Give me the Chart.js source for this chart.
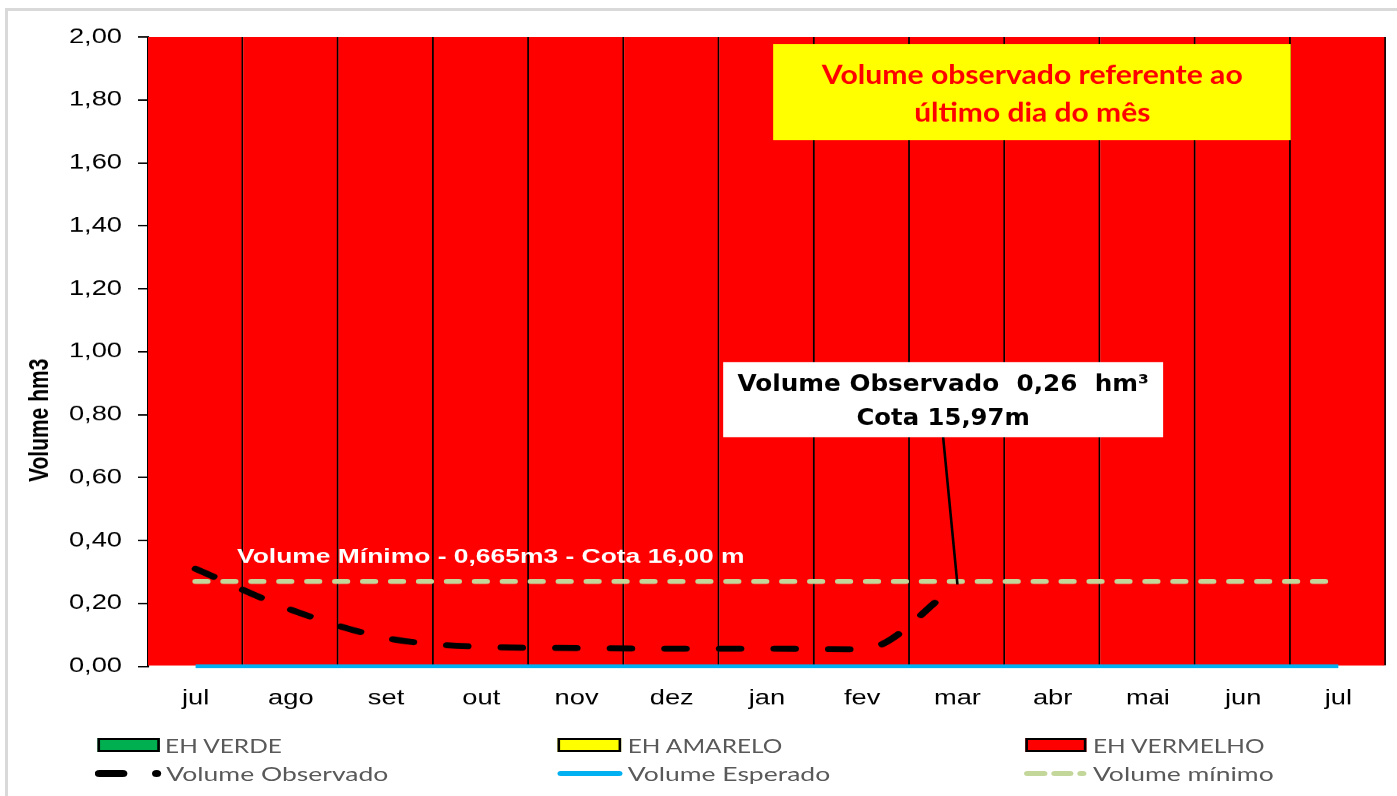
<!DOCTYPE html>
<html>
<head>
<meta charset="utf-8">
<script src="https://cdn.jsdelivr.net/npm/chart.js@4.4.0/dist/chart.umd.min.js"></script>
<style>
  body { margin: 0; background: #fff; overflow: hidden; }
  #moldura { position: absolute; left: 5px; top: 8px; width: 1500px; height: 900px;
             border-left: 3px solid #d9d9d9; border-top: 3px solid #d9d9d9; }
  #palco { position: absolute; left: 0; top: 0; width: 1075px; height: 796px;
           transform: scaleX(1.29953); transform-origin: 0 0; }
  #palco canvas { position: absolute; left: 0; top: 0; }
  .caixa { position: absolute; box-sizing: border-box; height: 14px; border: 2px solid #000; }
  .txt { position: absolute; font-family: Lato, "Open Sans", sans-serif; font-size: 20px;
         color: #595959; line-height: 24px; transform: translateY(-50%); white-space: nowrap;
         transform-origin: 0 50%; }
  .txt.estreito { transform: translateY(-50%) scaleX(0.94); }
  .txt.largo { transform: translateY(-50%) scaleX(1.02); }
  .traco { position: absolute; border-radius: 4px; }
</style>
</head>
<body>
<div id="moldura"></div>
<div id="palco">
  <canvas id="grafico" width="1075" height="796"></canvas>

  <!-- legenda, linha 1 -->
  <div class="caixa" style="left:75px;top:738px;width:48px;background:#00B050"></div>
  <div class="txt estreito" style="left:127px;top:745px">EH VERDE</div>
  <div class="caixa" style="left:429px;top:738px;width:49px;background:#FFFF00"></div>
  <div class="txt estreito" style="left:483px;top:745px">EH AMARELO</div>
  <div class="caixa" style="left:789px;top:738px;width:47px;background:#FF0000"></div>
  <div class="txt estreito" style="left:841px;top:745px">EH VERMELHO</div>

  <!-- legenda, linha 2 -->
  <div class="traco" style="left:73px;top:770px;width:25px;height:7px;background:#000"></div>
  <div class="traco" style="left:117px;top:770px;width:7px;height:7px;background:#000"></div>
  <div class="txt largo" style="left:128px;top:773px">Volume Observado</div>
  <div class="traco" style="left:429px;top:771px;width:50px;height:5px;background:#00B0F0"></div>
  <div class="txt largo" style="left:483px;top:773px">Volume Esperado</div>
  <div class="traco" style="left:788px;top:771px;width:18px;height:5px;background:#C4D79B"></div>
  <div class="traco" style="left:809px;top:771px;width:17px;height:5px;background:#C4D79B"></div>
  <div class="traco" style="left:829px;top:771px;width:7px;height:5px;background:#C4D79B"></div>
  <div class="txt largo" style="left:841px;top:773px">Volume mínimo</div>
</div>

<script>
// Volume do reservatorio - hm3

const meses = ['jul', 'ago', 'set', 'out', 'nov', 'dez', 'jan', 'fev', 'mar', 'abr', 'mai', 'jun', 'jul'];

// faixas de estado hidrologico (so o vermelho aparece, ocupa tudo ate 2,00)
const ehVerde = [0, 0, 0, 0, 0, 0, 0, 0, 0, 0, 0, 0, 0];
const ehAmarelo = [0, 0, 0, 0, 0, 0, 0, 0, 0, 0, 0, 0, 0];
const ehVermelho = [2, 2, 2, 2, 2, 2, 2, 2, 2, 2, 2, 2, 2];

// volumes lidos no ultimo dia do mes
const volumeObservado = [0.31, 0.18, 0.09, 0.062, 0.058, 0.056, 0.056, 0.054, 0.26, null, null, null, null];
const volumeEsperado = [0, 0, 0, 0, 0, 0, 0, 0, 0, 0, 0, 0, 0];
const volumeMinimo = [0.27, 0.27, 0.27, 0.27, 0.27, 0.27, 0.27, 0.27, 0.27, 0.27, 0.27, 0.27, 0.27];

const ESTICA = 1.29953; // a imagem original e esticada na horizontal

// desenha texto centrado e ajustado a uma largura (em px)
function textoAjustado(ctx, txt, x, y, largura, alinhar) {
    const w = ctx.measureText(txt).width;
    ctx.save();
    ctx.translate(x, y);
    ctx.scale(largura / w, 1);
    ctx.textAlign = alinhar || 'center';
    ctx.textBaseline = 'middle';
    ctx.fillText(txt, 0, 0);
    ctx.restore();
}

const anotacoes = {
    id: 'anotacoes',
    afterDatasetsDraw(chart) {
        const ctx = chart.ctx;
        const x = chart.scales.x, y = chart.scales.y;
        const passo = x.getPixelForValue(1) - x.getPixelForValue(0);
        const px = (i) => x.getPixelForValue(0) + i * passo; // posicao fracionaria de categoria
        const py = (v) => y.getPixelForValue(v);

        // texto do volume minimo
        ctx.fillStyle = '#fff';
        ctx.font = 'bold 20px "Liberation Sans", Arial, sans-serif';
        textoAjustado(ctx, 'Volume Mínimo - 0,665m3 - Cota 16,00 m', px(0.435), py(0.347), 5.33 * passo, 'left');

        // linha de chamada ate o ponto de marco
        ctx.save();
        ctx.strokeStyle = '#000';
        ctx.lineWidth = 2;
        ctx.beginPath();
        ctx.moveTo(px(7.85), py(0.728));
        ctx.lineTo(px(8), py(0.26));
        ctx.stroke();
        ctx.restore();

        // caixa amarela
        ctx.fillStyle = '#FFFF00';
        ctx.fillRect(px(6.065), py(1.978), px(11.5) - px(6.065), py(1.672) - py(1.978));
        ctx.fillStyle = '#FF0000';
        ctx.font = 'bold 27px Lato, "Open Sans", sans-serif';
        textoAjustado(ctx, 'Volume observado referente ao', px(8.786), py(1.879), 4.42 * passo);
        textoAjustado(ctx, 'último dia do mês', px(8.786), py(1.758), 2.48 * passo);

        // caixa branca
        ctx.fillStyle = '#fff';
        ctx.fillRect(px(5.54), py(0.967), px(10.16) - px(5.54), py(0.728) - py(0.967));
        ctx.fillStyle = '#000';
        ctx.font = 'bold 23px "DejaVu Sans", Verdana, sans-serif';
        textoAjustado(ctx, 'Volume Observado  0,26  hm³', px(7.85), py(0.893), 4.32 * passo);
        textoAjustado(ctx, 'Cota 15,97m', px(7.85), py(0.785), 1.82 * passo);

        // titulo do eixo y
        ctx.save();
        ctx.fillStyle = '#000';
        ctx.font = 'bold 21px "Liberation Sans", Arial, sans-serif';
        ctx.translate(40 / ESTICA, py(0.782));
        ctx.rotate(-Math.PI / 2);
        ctx.textAlign = 'center';
        ctx.textBaseline = 'middle';
        ctx.fillText('Volume hm3', 0, 0);
        ctx.restore();
    }
};

const ctx1 = document.getElementById('grafico');
const grafico = new Chart(ctx1, {
    type: 'bar',
    data: {
        labels: meses,
        datasets: [
            {
                type: 'line',
                label: 'Volume Observado',
                data: volumeObservado,
                borderColor: '#000',
                borderWidth: 6,
                borderDash: [16, 26],
                borderCapStyle: 'round',
                cubicInterpolationMode: 'monotone',
                pointRadius: 0,
                spanGaps: false,
                clip: false,
                order: 0
            },
            {
                type: 'line',
                label: 'Volume mínimo',
                data: volumeMinimo,
                borderColor: '#C4D79B',
                borderWidth: 5,
                borderDash: [9, 12.5],
                borderCapStyle: 'round',
                pointRadius: 0,
                clip: false,
                order: 1
            },
            {
                type: 'line',
                label: 'Volume Esperado',
                data: volumeEsperado,
                borderColor: '#00B0F0',
                borderWidth: 4,
                pointRadius: 0,
                clip: false,
                order: 2
            },
            {
                label: 'EH VERDE',
                data: ehVerde,
                backgroundColor: '#00B050',
                borderWidth: 0,
                grouped: false,
                hidden: true, // valores nulos, so entram na legenda
                barPercentage: 1,
                categoryPercentage: 1,
                order: 5
            },
            {
                label: 'EH AMARELO',
                data: ehAmarelo,
                backgroundColor: '#FFFF00',
                borderWidth: 0,
                grouped: false,
                hidden: true,
                barPercentage: 1,
                categoryPercentage: 1,
                order: 6
            },
            {
                label: 'EH VERMELHO',
                data: ehVermelho,
                backgroundColor: '#FF0000',
                borderColor: '#000',
                borderWidth: { top: 0, right: 1.6, bottom: 0, left: 0 },
                borderSkipped: false,
                grouped: false,
                barPercentage: 1,
                categoryPercentage: 1,
                order: 7
            }
        ]
    },
    options: {
        responsive: false,
        animation: false,
        devicePixelRatio: ESTICA,
        layout: {
            padding: { top: 37, right: 8.5, left: 0, bottom: 0 }
        },
        plugins: {
            legend: { display: false },
            tooltip: { enabled: false }
        },
        scales: {
            x: {
                offset: true,
                grid: { display: false },
                border: { display: false },
                ticks: {
                    color: '#000',
                    padding: 12,
                    font: { family: '"Liberation Sans", Arial, sans-serif', size: 21 }
                },
                afterFit: (s) => { s.height = 130; }
            },
            y: {
                min: 0,
                max: 2,
                grid: {
                    drawOnChartArea: false,
                    color: '#000',
                    lineWidth: 1.5,
                    tickLength: 7.7
                },
                border: { color: '#000', width: 1.6 },
                ticks: {
                    stepSize: 0.2,
                    color: '#000',
                    padding: 12.3,
                    font: { family: '"Liberation Sans", Arial, sans-serif', size: 21 },
                    callback: (v) => v.toFixed(2).replace('.', ',')
                },
                afterFit: (s) => { s.width = 148 / ESTICA; }
            }
        }
    },
    plugins: [anotacoes]
});
</script>
</body>
</html>
